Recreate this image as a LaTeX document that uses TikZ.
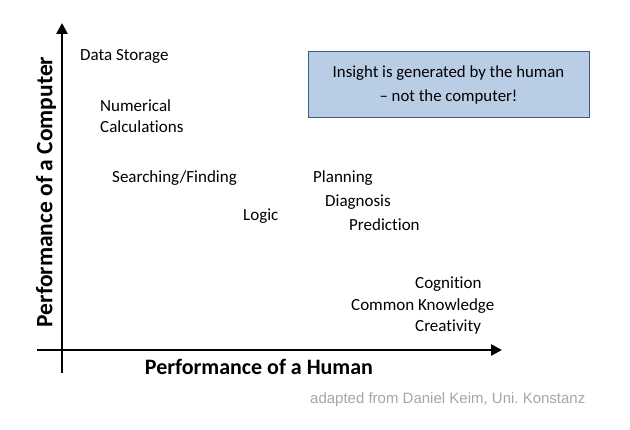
\documentclass[tikz,border=0pt]{standalone}
\usepackage{fontspec}
\setmainfont{Carlito}[Ligatures={NoCommon,NoContextual}]
\newfontfamily\arialfont{Liberation Sans}
\usetikzlibrary{arrows.meta}
\definecolor{boxfill}{HTML}{B9CDE5}
\definecolor{boxline}{HTML}{385D8A}
\definecolor{notegray}{HTML}{A6A6A6}
\frenchspacing
\begin{document}
\begin{tikzpicture}[x=1pt,y=-1pt,
  lbl/.style={anchor=west,inner sep=0pt,font=\fontsize{17}{19}\selectfont},
  axis/.style={line width=2.6pt,-{Triangle[length=11pt,width=11pt]}},
  axlbl/.style={inner sep=0pt,font=\fontsize{22}{24}\selectfont\bfseries}]
\useasboundingbox (0,0) rectangle (630,430);
\coordinate (ys) at (62,373);
\coordinate (ye) at (62,23);
\coordinate (xs) at (37,350);
\coordinate (xe) at (502,350);
\draw[axis] (ys) -- (ye);
\draw[axis] (xs) -- (xe);
\node[axlbl] (hx) at (259,367) {Performance of a Human};
\node[axlbl,rotate=90,font=\fontsize{23.5}{25}\selectfont\bfseries] (cy) at (46,192) {Performance of a Computer};
\node[draw=boxline,fill=boxfill,line width=1pt,minimum width=281pt,minimum height=66pt,align=center,
  font=\fontsize{16.8}{24}\selectfont,inner sep=0pt] (box) at (448.5,85)
  {Insight is generated by the human\\– not the computer!};
\node[lbl] (ds) at (80,56) {Data Storage};
\node[lbl] (nu) at (100,106) {Numerical};
\node[lbl] (ca) at (100,127) {Calculations};
\node[lbl] (sf) at (112,178) {Searching/Finding};
\node[lbl] (lo) at (243,216) {Logic};
\node[lbl] (pl) at (313,178) {Planning};
\node[lbl] (di) at (325,202) {Diagnosis};
\node[lbl] (pr) at (349,225) {Prediction};
\node[lbl] (co) at (415,284) {Cognition};
\node[lbl] (ck) at (351,306) {Common Knowledge};
\node[lbl] (cr) at (415,327) {Creativity};
\node[anchor=west,inner sep=0pt,text=notegray,font=\arialfont\fontsize{15}{17}\selectfont] (note) at (310,400) {adapted from Daniel Keim, Uni.\ Konstanz};
\end{tikzpicture}
\end{document}
